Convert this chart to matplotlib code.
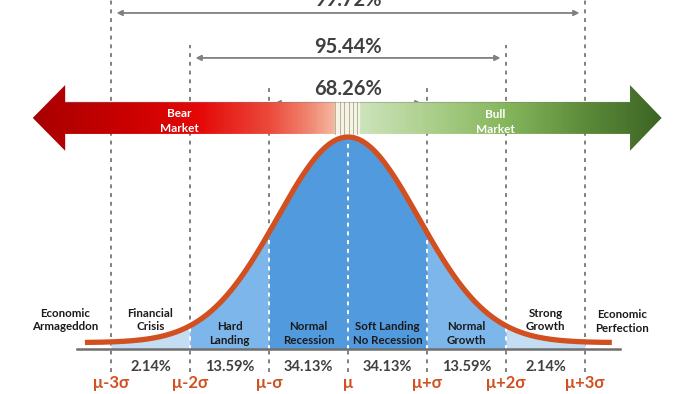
import numpy as np
import matplotlib.pyplot as plt
from matplotlib.patches import Polygon
from matplotlib.colors import LinearSegmentedColormap

# --- Data ---
sigma_pos = [-3, -2, -1, 0, 1, 2, 3]
sigma_labels = ["μ-3σ", "μ-2σ", "μ-σ", "μ", "μ+σ", "μ+2σ", "μ+3σ"]
band_pcts = ["2.14%", "13.59%", "34.13%", "34.13%", "13.59%", "2.14%"]
band_names = ["Financial\nCrisis", "Hard\nLanding", "Normal\nRecession",
              "Soft Landing\nNo Recession", "Normal\nGrowth", "Strong\nGrowth"]
tail_names = ["Economic\nArmageddon", "Economic\nPerfection"]
span_k = [1, 2, 3]
span_pcts = ["68.26%", "95.44%", "99.72%"]
market_names = ["Bear\nMarket", "Bull\nMarket"]

band_colors = ["#c4ddf3", "#7db6ea", "#529ade", "#529ade", "#7db6ea", "#c4ddf3"]
ORANGE = "#d24f1f"
GRAY = "#808080"
plt.rcParams["font.family"] = ["Lato", "DejaVu Sans"]

fig = plt.figure(figsize=(7, 3.94), dpi=100)
ax = fig.add_axes([0, 0, 1, 1])
ax.set_xlim(-348 / 79, 352 / 79)
ax.set_ylim(-45 / 212, 349 / 212)
ax.axis("off")


def bell(x):
    return 0.03 + 0.97 * np.exp(-x ** 2 / 1.6)


# dashed guides
tops = {3: 1.66, 2: 1.434, 1: 1.231, 0: 1.0}
for s in sigma_pos:
    ax.plot([s, s], [-0.108, tops[abs(s)]], color=GRAY, lw=1.4,
            ls=(0, (2, 2.5)), zorder=1)

# filled bands
for i in range(6):
    xs = np.linspace(sigma_pos[i], sigma_pos[i + 1], 80)
    ax.fill_between(xs, 0, bell(xs), color=band_colors[i], lw=0, zorder=2)
for s in sigma_pos[1:-1]:
    ax.plot([s, s], [0, bell(s)], color="white", lw=1.4,
            ls=(0, (2, 2.5)), zorder=3)

# curve and baseline
xc = np.linspace(-3.33, 3.34, 500)
ax.plot(xc, bell(xc), color=ORANGE, lw=3.8, solid_capstyle="butt", zorder=4)
ax.plot([-3.43, 3.44], [0, 0], color="#6f6f6f", lw=1.8, zorder=4)

# span arrows
arrow_y = [1.16, 1.373, 1.585]
text_y = [1.228, 1.425, 1.645]
for k, pct, ay, ty in zip(span_k, span_pcts, arrow_y, text_y):
    ax.annotate("", xy=(-k + 0.07, ay), xytext=(k - 0.07, ay),
                arrowprops=dict(arrowstyle="<|-|>", color=GRAY, lw=1.3,
                                mutation_scale=8, shrinkA=0, shrinkB=0),
                zorder=2)
    ax.text(0, ty, pct, ha="center", va="center", fontsize=14.5,
            fontweight="bold", color="#404040", zorder=2)

# banner arrow
yc, bh, hh = 1.09, 0.0755, 0.155
xl, xlb, xrb, xr = -3.99, -3.58, 3.57, 3.97
banner = Polygon([(xl, yc), (xlb, yc + hh), (xlb, yc + bh), (xrb, yc + bh),
                  (xrb, yc + hh), (xr, yc), (xrb, yc - hh), (xrb, yc - bh),
                  (xlb, yc - bh), (xlb, yc - hh)], closed=True,
                 facecolor="none", edgecolor="none", zorder=6)
ax.add_patch(banner)
gap_l, gap_r = -0.18, 0.14
stops = [(xl, "#a80000"), (-2.9, "#c80000"), (-1.9, "#e40808"),
         (-1.0, "#ec4a3c"), (-0.5, "#f08670"), (gap_l, "#f5b8a2"),
         (gap_l + 1e-3, "#f8f2e6"), (gap_r - 1e-3, "#f4f5e6"),
         (gap_r, "#cde4bc"), (1.0, "#aed08e"), (2.0, "#86b65c"),
         (3.0, "#5c8c3a"), (xr, "#3c6424")]
pos = [(p - xl) / (xr - xl) for p, _ in stops]
cmap = LinearSegmentedColormap.from_list("banner", list(zip(pos, [c for _, c in stops])))
grad = np.linspace(0, 1, 700).reshape(1, -1)
im = ax.imshow(grad, cmap=cmap, aspect="auto", extent=(xl, xr, yc - hh, yc + hh),
               zorder=6, interpolation="bilinear")
im.set_clip_path(banner)
for xs in np.linspace(gap_l + 0.02, gap_r - 0.02, 6):
    ax.plot([xs, xs], [yc - bh, yc + bh], color="#8a8a60", lw=0.6, alpha=0.7, zorder=7)
ax.plot([xlb, xrb], [yc + bh, yc + bh], color="#7a7a7a", lw=0.6, alpha=0.5, zorder=7)
ax.text(-2.13, 1.075, market_names[0], ha="center", va="center", fontsize=8.5,
        fontweight="bold", color="white", linespacing=1.4, zorder=8)
ax.text(1.86, 1.07, market_names[1], ha="center", va="center", fontsize=8.5,
        fontweight="bold", color="white", linespacing=1.4, zorder=8)

# band labels
for i, name in enumerate(band_names):
    cx = (sigma_pos[i] + sigma_pos[i + 1]) / 2
    ny = 0.137 if i in (0, 5) else 0.072
    ax.text(cx, ny, name, ha="center", va="center", fontsize=8.3,
            fontweight="bold", color="#1a1a1a", linespacing=1.3, zorder=5)
    ax.text(cx, -0.085, band_pcts[i], ha="center", va="center", fontsize=10.5,
            fontweight="bold", color="#404040", zorder=5)
ax.text(-3.58, 0.137, tail_names[0], ha="center", va="center", fontsize=8.3,
        fontweight="bold", color="#1a1a1a", linespacing=1.3)
ax.text(3.47, 0.13, tail_names[1], ha="center", va="center", fontsize=8.3,
        fontweight="bold", color="#1a1a1a", linespacing=1.3)

for s, lab in zip(sigma_pos, sigma_labels):
    ax.text(s, -0.16, lab, ha="center", va="center", fontsize=12,
            fontweight="bold", color=ORANGE)

fig.savefig("out.png", dpi=100)
